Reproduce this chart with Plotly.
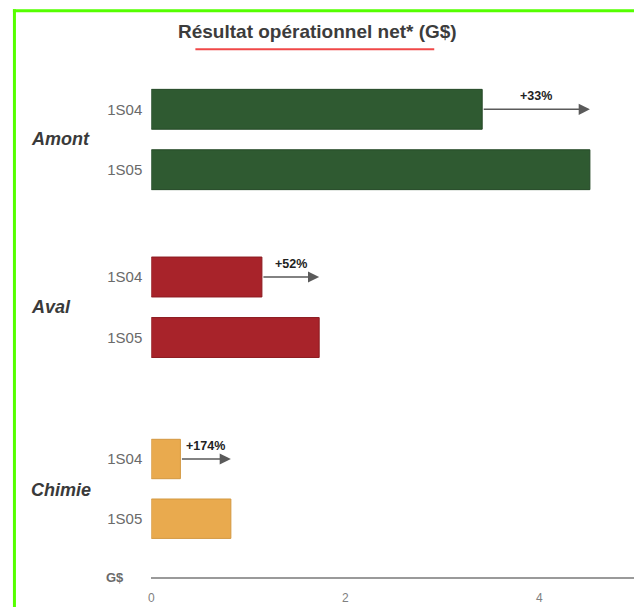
import plotly.graph_objects as go

# ---- data ----
groups = ["Amont", "Aval", "Chimie"]
periods = ["1S04", "1S05"]
values_1s04 = [3.41, 1.14, 0.30]
values_1s05 = [4.52, 1.73, 0.82]
pct_labels = ["+33%", "+52%", "+174%"]
x_ticks = [0, 2, 4]
title_text = "Résultat opérationnel net* (G$)"
unit_label = "G$"

bar_colors = ["#2F5A31", "#A8232A", "#E9AA4E"]
bar_lines = ["#244826", "#8C1B20", "#D39841"]

W, H = 634, 607
def px(x):
    return x / W
def py(y):
    return 1 - y / H

# vertical domains (pixels) for each group panel
domains_px = [(79.1, 199.9), (246.75, 367.75), (429.15, 548.55)]
label_y_px = [139.3, 307.0, 490.0]

fig = go.Figure()
yaxis_names = ["y", "y2", "y3"]
font_family = "Liberation Sans, Arial, sans-serif"

for i, g in enumerate(groups):
    fig.add_trace(go.Bar(
        orientation="h",
        x=[values_1s04[i], values_1s05[i]],
        y=periods,
        xaxis="x",
        yaxis=yaxis_names[i],
        width=0.66,
        marker=dict(color=bar_colors[i], line=dict(color=bar_lines[i], width=1)),
        showlegend=False,
        hoverinfo="skip",
    ))
    # growth arrow from 1S04 end to 1S05 value
    fig.add_annotation(
        xref="x", yref=yaxis_names[i],
        x=values_1s05[i], y=0,
        axref="x", ayref=yaxis_names[i],
        ax=values_1s04[i], ay=0,
        showarrow=True, arrowhead=2, arrowsize=1.4, arrowwidth=1.6,
        arrowcolor="#5a5a5a", standoff=0, startstandoff=0, text="",
    )
    fig.add_annotation(
        xref="x", yref=yaxis_names[i],
        x=(values_1s04[i] + values_1s05[i]) / 2, y=0,
        yshift=13, showarrow=False, text="<b>" + pct_labels[i] + "</b>",
        font=dict(family=font_family, size=12.5, color="#222222"),
    )
    # group label
    fig.add_annotation(
        xref="paper", yref="paper", x=px(26), y=py(label_y_px[i]),
        xanchor="left", yanchor="middle", showarrow=False,
        text="<b><i>" + g + "</i></b>",
        font=dict(family=font_family, size=18, color="#3a3a3a"),
    )

layout_axes = {}
for i, name in enumerate(["yaxis", "yaxis2", "yaxis3"]):
    d0, d1 = domains_px[i]
    layout_axes[name] = dict(
        domain=[py(d1), py(d0)],
        anchor="x",
        type="category",
        categoryorder="array", categoryarray=periods,
        range=[1.5, -0.5],
        showgrid=False, zeroline=False, showline=False, ticks="",
        tickfont=dict(family=font_family, size=15, color="#6a6a6a"),
        ticklabelstandoff=8,
    )

fig.update_layout(
    width=W, height=H,
    margin=dict(l=0, r=0, t=0, b=0),
    paper_bgcolor="white", plot_bgcolor="white",
    bargap=0.34,
    xaxis=dict(
        domain=[px(149), 1],
        range=[0, (W - 149) / 97.5],
        anchor="free", position=py(577.5),
        showline=True, linecolor="#9a9a9a", linewidth=2,
        showgrid=False, zeroline=False,
        tickvals=x_ticks, ticktext=[str(t) for t in x_ticks],
        ticks="", ticklabelstandoff=9,
        tickfont=dict(family=font_family, size=12, color="#808080"),
    ),
    **layout_axes,
)

# title and decorations
fig.add_annotation(
    xref="paper", yref="paper", x=px(315.5), y=py(31),
    xanchor="center", yanchor="middle",
    showarrow=False, text="<b>" + title_text + "</b>",
    font=dict(family=font_family, size=19, color="#3c3c3c"),
)
fig.add_annotation(
    xref="paper", yref="paper", x=px(113), y=py(577.5),
    xanchor="center", yanchor="middle",
    showarrow=False, text="<b>" + unit_label + "</b>",
    font=dict(family=font_family, size=13, color="#6a6a6a"),
)
fig.add_shape(type="line", xref="paper", yref="paper",
              x0=px(193.3), x1=px(433.3), y0=py(49.3), y1=py(49.3),
              line=dict(color="#F04848", width=2))
fig.add_shape(type="line", xref="paper", yref="paper",
              x0=px(10), x1=1, y0=py(10.7), y1=py(10.7),
              line=dict(color="#55FF00", width=3))
fig.add_shape(type="line", xref="paper", yref="paper",
              x0=px(11.5), x1=px(11.5), y0=0, y1=py(9.3),
              line=dict(color="#55FF00", width=3))

fig.write_html("out.html")
